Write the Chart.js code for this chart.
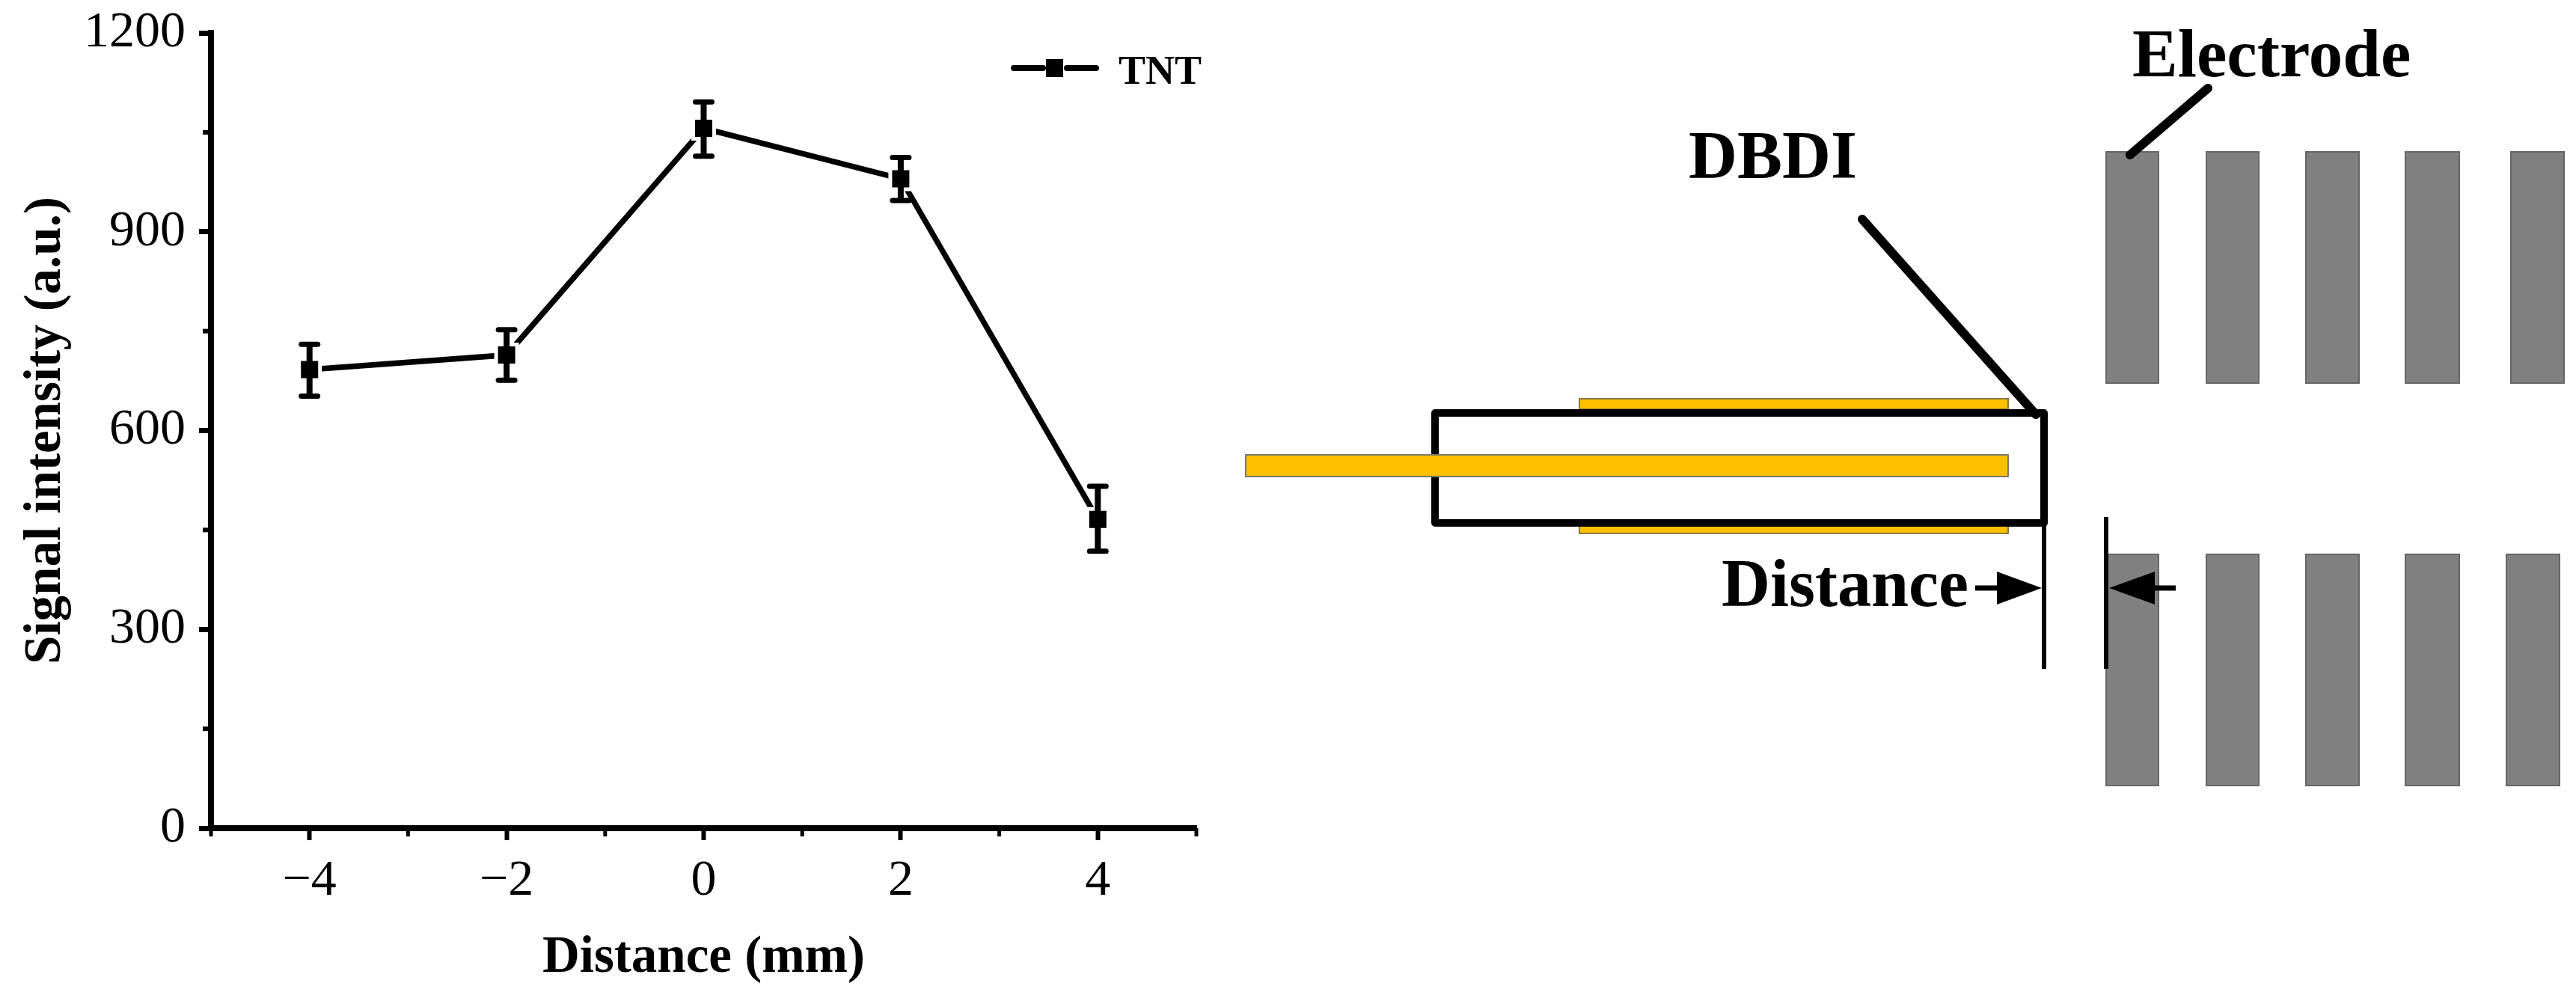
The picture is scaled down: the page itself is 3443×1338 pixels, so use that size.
<!DOCTYPE html>
<html><head><meta charset="utf-8">
<style>html,body{margin:0;padding:0;background:#fff}#wrap{width:3443px;height:1338px;position:relative}</style>
<script src="https://cdn.jsdelivr.net/npm/chart.js@4/dist/chart.umd.min.js"></script>
</head><body><div id="wrap"><canvas id="c" width="3443" height="1338"></canvas></div>
<script>
const distances = [-4, -2, 0, 2, 4];
const signal = [692, 714, 1056, 980, 466];
const errLow = [652, 676, 1014, 947, 418];
const errHigh = [730, 752, 1096, 1012, 516];
const seriesName = 'TNT';
const xMajorTicks = [-4, -2, 0, 2, 4];
const xMinorTicks = [-5, -3, -1, 1, 3, 5];
const yMajorTicks = [0, 300, 600, 900, 1200];
const yMinorTicks = [150, 450, 750, 1050];
const xTitle = 'Distance (mm)';
const yTitle = 'Signal intensity (a.u.)';

const SERIF = '"Liberation Serif", serif';

/* schematic on the right (not data) */
const upperElectrodes = [[2815,2885],[2949,3019],[3082,3153],[3215,3287],[3356,3427]];
const lowerElectrodes = [[2815,2885],[2949,3019],[3082,3153],[3215,3287],[3350,3421]];
const schematicLabels = [
  ['Electrode', 2850, 102, 91],
  ['DBDI', 2257, 238, 90],
  ['Distance', 2301, 810, 90]
];

const extras = {
  id: 'extras',
  afterDatasetsDraw(chart) {
    const {ctx, scales: {x, y}} = chart;
    ctx.save();
    ctx.strokeStyle = '#000'; ctx.fillStyle = '#000'; ctx.lineCap = 'butt';
    // error bars
    distances.forEach((d, i) => {
      const px = x.getPixelForValue(d), lo = y.getPixelForValue(errLow[i]), hi = y.getPixelForValue(errHigh[i]);
      ctx.lineWidth = 8;
      ctx.beginPath(); ctx.moveTo(px, lo); ctx.lineTo(px, hi); ctx.stroke();
      ctx.lineWidth = 7; ctx.lineCap = 'round';
      [lo, hi].forEach(v => { ctx.beginPath(); ctx.moveTo(px - 11, v); ctx.lineTo(px + 11, v); ctx.stroke(); });
      ctx.lineCap = 'butt';
    });
    // minor ticks
    ctx.lineWidth = 5;
    xMinorTicks.forEach(v => { const p = x.getPixelForValue(v); ctx.beginPath(); ctx.moveTo(p, y.bottom); ctx.lineTo(p, y.bottom + 11); ctx.stroke(); });
    ctx.lineWidth = 6;
    yMinorTicks.forEach(v => { const p = y.getPixelForValue(v); ctx.beginPath(); ctx.moveTo(x.left, p); ctx.lineTo(x.left - 11, p); ctx.stroke(); });
    // legend
    ctx.lineWidth = 8; ctx.lineCap = 'round';
    ctx.beginPath(); ctx.moveTo(1355, 91); ctx.lineTo(1394, 91); ctx.moveTo(1426, 91); ctx.lineTo(1465, 91); ctx.stroke();
    ctx.lineCap = 'butt';
    ctx.fillRect(1398, 79, 23, 24);
    ctx.font = 'bold 54px ' + SERIF; ctx.textAlign = 'left'; ctx.textBaseline = 'alphabetic';
    ctx.fillText(seriesName, 1495, 112);
    drawSchematic(ctx);
    ctx.restore();
  }
};

function drawSchematic(ctx) {
  const rect = (x0, y0, x1, y1, fill, edge) => {
    ctx.fillStyle = fill; ctx.fillRect(x0, y0, x1 - x0, y1 - y0);
    ctx.strokeStyle = edge; ctx.lineWidth = 2; ctx.strokeRect(x0, y0, x1 - x0, y1 - y0);
  };
  const seg = (x0, y0, x1, y1, w, cap) => {
    ctx.strokeStyle = '#000'; ctx.lineWidth = w; ctx.lineCap = cap || 'butt';
    ctx.beginPath(); ctx.moveTo(x0, y0); ctx.lineTo(x1, y1); ctx.stroke();
  };
  const head = (tip, base, yc, h) => {
    ctx.fillStyle = '#000'; ctx.beginPath(); ctx.moveTo(tip, yc); ctx.lineTo(base, yc - h); ctx.lineTo(base, yc + h); ctx.closePath(); ctx.fill();
  };
  upperElectrodes.forEach(e => rect(e[0], 203, e[1], 512, '#808080', '#666'));
  lowerElectrodes.forEach(e => rect(e[0], 741, e[1], 1050, '#808080', '#666'));
  rect(2111, 533, 2684, 547, '#FFC000', '#8a7a3a');
  rect(2111, 699, 2684, 713, '#FFC000', '#8a7a3a');
  ctx.strokeStyle = '#000'; ctx.lineWidth = 10; ctx.lineJoin = 'round'; ctx.lineCap = 'butt';
  ctx.strokeRect(1918, 552, 814, 147);
  rect(1665, 608, 2684, 637, '#FFC000', '#7a7a6a');
  seg(2489, 293, 2721, 554, 12, 'round');
  seg(2951, 118, 2847, 207, 12, 'round');
  seg(2732, 699, 2732, 894, 6);
  seg(2815, 691, 2815, 894, 6);
  seg(2640, 786, 2675, 786, 7); head(2729, 2669, 786, 22);
  seg(2875, 786, 2908, 786, 7); head(2819, 2880, 786, 22);
  ctx.fillStyle = '#000'; ctx.textAlign = 'left'; ctx.textBaseline = 'alphabetic';
  schematicLabels.forEach(l => { ctx.font = 'bold ' + l[3] + 'px ' + SERIF; ctx.fillText(l[0], l[1], l[2]); });
}

new Chart(document.getElementById('c'), {
  type: 'line',
  data: {
    datasets: [{
      label: seriesName,
      data: distances.map((d, i) => ({x: d, y: signal[i]})),
      borderColor: '#000', borderWidth: 7.5, tension: 0,
      pointStyle: 'rect', pointRadius: 19.8, pointBorderWidth: 5,
      pointBackgroundColor: '#000', pointBorderColor: '#fff'
    }]
  },
  options: {
    responsive: false, animation: false, devicePixelRatio: 1,
    layout: {padding: {left: 0, top: 44, right: 1844, bottom: 0}},
    plugins: {legend: {display: false}, tooltip: {enabled: false}},
    scales: {
      x: {
        type: 'linear', min: -5, max: 5,
        afterBuildTicks: s => { s.ticks = xMajorTicks.map(v => ({value: v})); },
        afterFit: s => { s.height = 231; s.paddingLeft = 0; s.paddingRight = 0; },
        border: {color: '#000', width: 8},
        grid: {drawOnChartArea: false, tickLength: 16, tickWidth: 6, tickColor: '#000'},
        ticks: {autoSkip: false, maxRotation: 0, color: '#000', padding: 14, font: {family: SERIF, size: 68},
                callback: v => (v < 0 ? '\u2212' + (-v) : String(v))},
        title: {display: true, text: xTitle, color: '#000', font: {family: SERIF, size: 69, weight: 'bold'}, padding: {top: 15, bottom: 15}}
      },
      y: {
        min: 0, max: 1200,
        afterBuildTicks: s => { s.ticks = yMajorTicks.map(v => ({value: v})); },
        afterFit: s => { s.width = 282; s.paddingTop = 0; s.paddingBottom = 0; },
        border: {color: '#000', width: 8},
        grid: {drawOnChartArea: false, tickLength: 16, tickWidth: 7, tickColor: '#000'},
        ticks: {autoSkip: false, color: '#000', padding: 18, font: {family: SERIF, size: 68}, callback: v => String(v)},
        title: {display: true, text: yTitle, color: '#000', font: {family: SERIF, size: 69, weight: 'bold'}, padding: {top: 21, bottom: 0}}
      }
    }
  },
  plugins: [extras]
});
</script></body></html>
